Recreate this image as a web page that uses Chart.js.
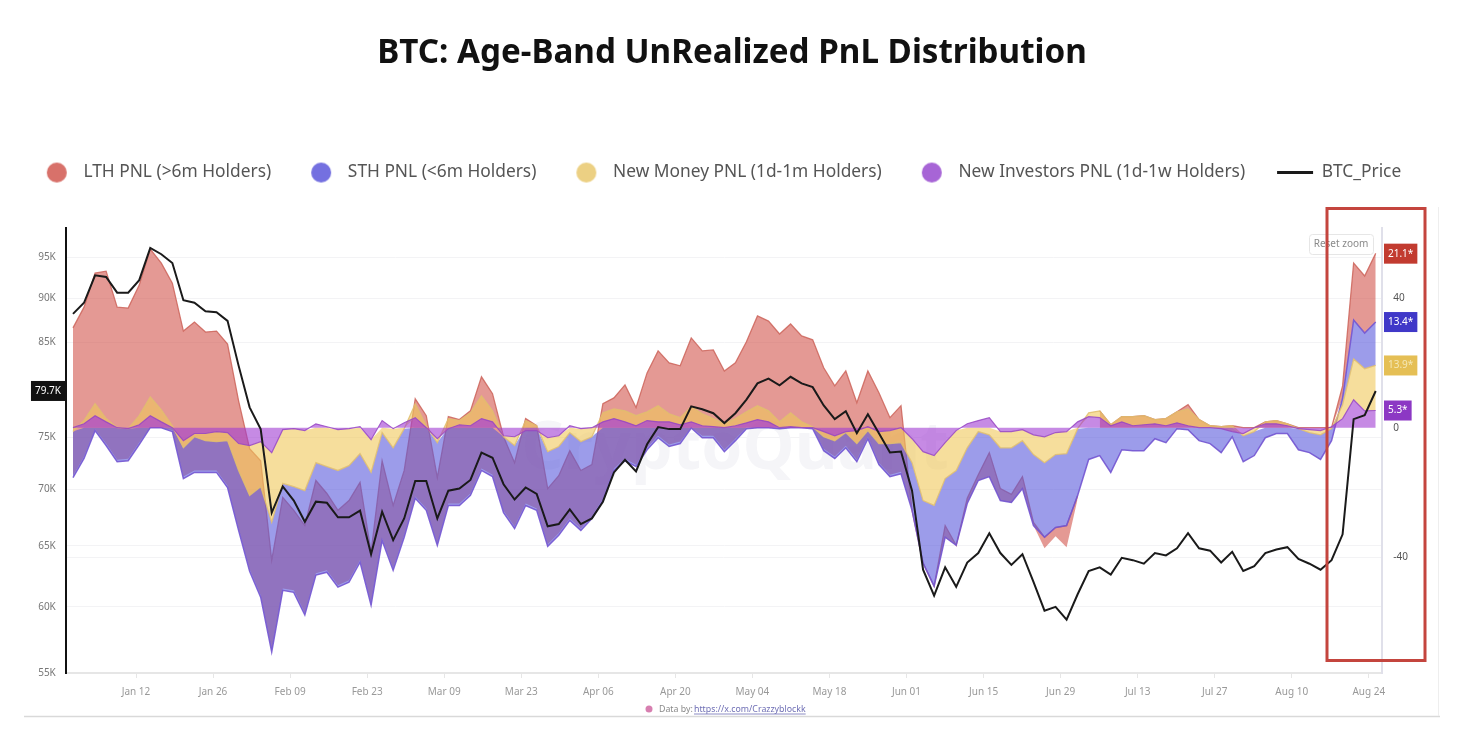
<!DOCTYPE html>
<html>
<head>
<meta charset="utf-8">
<script src="https://cdn.jsdelivr.net/npm/chart.js@4"></script>
<style>
html,body{margin:0;padding:0;background:#fff}
#wrap{width:1464px;height:754px}
canvas{display:block;filter:blur(0.55px)}
</style>
</head>
<body>
<div id="wrap"><canvas id="c" width="1464" height="754"></canvas></div>
<script>
const firstDay = -11.45;   // days relative to Jan 12
const stepDays = 2.006;
const xTickDays = [0,14,28,42,56,70,84,98,112,126,140,154,168,182,196,210,224];
const xTickLabels = ['Jan 12','Jan 26','Feb 09','Feb 23','Mar 09','Mar 23','Apr 06','Apr 20','May 04','May 18','Jun 01','Jun 15','Jun 29','Jul 13','Jul 27','Aug 10','Aug 24'];
const priceTicks = [55,60,65,70,75,79.7,85,90,95];
const priceTickLabels = ['55K  ','60K  ','65K  ','70K  ','75K  ','79.7K','85K  ','90K  ','95K  '];
const pnlTicks = [53.7,40,32.6,19.2,5.3,0,-40];
const pnlTickLabels = ['21.1*','  40','13.4*','13.9*','5.3*','  0','  -40'];

const btcPrice = [88.2,89.5,92.8,92.6,90.7,90.7,92.2,96.2,95.4,94.3,
89.8,89.5,88.5,88.4,87.4,82.4,78,75.8,67.9,70.3,
69,67.1,68.9,68.8,67.5,67.5,68.1,64.3,68,65.5,
67.4,70.8,70.8,67.4,69.9,70.1,70.9,73.5,73,70.5,
69.1,70.2,69.6,66.7,66.9,68.2,66.9,67.4,68.9,71.6,
72.8,71.7,74.3,76,75.8,75.8,78.1,77.8,77.4,76.4,
77.4,78.8,80.5,81,80.3,81.2,80.5,80.1,78.2,76.8,
77.6,75.4,77.3,75.4,73.5,73.6,69.9,63,60.9,63.2,
61.6,63.6,64.4,66.1,64.4,63.4,64.3,62,59.7,60,
59,61,62.9,63.2,62.6,64,63.8,63.5,64.4,64.2,
64.8,66.1,64.8,64.6,63.6,64.5,62.9,63.3,64.4,64.7,
64.9,63.9,63.5,63,63.8,66,76.8,77.2,79.7];

const newInvestors = [0,1.2,3.7,1.8,0,-.3,.9,3.7,1.8,0,
-4,-1.8,-1.8,-1.2,-1.5,-4.9,-5.5,-4.3,-7.7,-.6,
-.3,-.9,1.2,.3,-.6,-.3,.3,-3.7,2.2,-.3,
1.5,3.1,0,-3.4,-.3,.9,.6,2.8,1.8,-2.5,
-2.8,-.9,-.9,-3.1,-2.5,.6,-.3,0,1.8,2.8,
1.8,.6,2.2,1.8,1.8,.9,1.8,.6,.3,0,
.6,1.5,2.5,1.8,0,.3,0,0,-1.2,-2.5,
-1.2,-.9,.3,-1.2,-.9,0,-3.4,-7.4,-8.6,-4.6,
-.9,1.2,2.2,3.1,-1.2,-1.2,-.6,-2.2,-2.8,-1.5,
-1.2,1.8,3.4,3.1,.6,1.8,.6,.9,1.2,.6,
1.5,.6,0,0,-.3,-1.2,-1.8,0,1.2,1.2,
.6,-.3,-.6,-.9,.3,2.8,8.6,5.2,5.3];

const newMoney = [-1.2,2.2,7.4,2.8,0,-.3,3.7,9.5,5.5,.6,
-6.2,-2.8,-4,-4.3,-4,-13.2,-20.9,-18.2,-29.2,-17.2,
-18.2,-19.4,-10.8,-12,-13.2,-11.7,-8,-13.8,-1.5,-6.2,
-.3,7.4,.6,-4.6,2.8,2.2,4.6,9.8,5.2,-2.8,
-5.5,2.2,.6,-7.4,-5.8,-1.5,-4.3,-2.8,4.6,5.8,
5.2,3.7,4.9,6.8,4.3,3.1,6.5,4.3,2.8,1.2,
2.8,4.9,6.8,5.2,1.8,4.6,1.8,.3,-2.8,-4,
-1.5,-4.9,-.9,-4.9,-4.9,-4.6,-10.8,-22.5,-24,-15.7,
-13.2,-6.2,-1.2,-2.2,-6.2,-6.2,-4,-8.3,-10.8,-8.3,
-8,-.3,4.6,5.2,.9,3.4,3.4,3.7,2.5,2.8,
4.9,5.8,2.5,.6,.3,.6,-2.5,-1.2,1.8,2.2,
1.2,-.3,-1.5,-2.2,-.3,7.1,21.2,18.2,19.2];

const sthPnl = [-15.4,-9.5,-.9,-5.5,-10.5,-10.2,-5.2,0,0,-1.2,
-15.7,-13.8,-13.8,-13.8,-18.5,-31.7,-44.3,-52.3,-69.2,-50.2,
-50.8,-57.8,-45.5,-44.6,-49.2,-47.7,-41.5,-54.8,-34.8,-44,
-33.8,-21.8,-25.5,-36.3,-24,-24,-20.9,-13.2,-15.1,-26.2,
-31.1,-24,-25.5,-36.6,-33.2,-28.6,-31.7,-28,-22.5,-13.2,
-10.2,-12,-6.8,-3.1,-5.8,-4.9,-.1,-3.1,-3.1,-7.4,
-4,-.3,0,0,-.3,0,0,-.3,-7.1,-9.5,
-6.2,-10.5,-3.4,-11.4,-15.1,-14.2,-25.5,-41.8,-48.9,-33.8,
-36.3,-23.4,-16.3,-15.1,-22.5,-23.1,-18.8,-30.2,-33.8,-30.8,
-30.2,-20.9,-9.8,-8.6,-13.8,-6.8,-7.1,-7.1,-3.4,-4.6,
-.3,-.6,-4,-4.9,-7.7,-2.8,-10.5,-8.6,-3.1,-1.8,
-1.8,-6.8,-7.7,-9.8,-4,9.2,33.2,29.2,32.6];

const lthUpper = [30.8,37.2,47.7,48.3,37.2,36.9,44,55.1,50.8,44.6,
29.8,32.6,29.5,29.8,25.8,8.3,-6.5,-10.2,-40.9,-21.5,
-25.5,-30.2,-16.3,-20.3,-25.5,-22.5,-16.9,-38.5,-10.2,-24,
-13.2,8.9,3.7,-15.4,3.4,2.5,5.2,15.7,10.5,-2.8,
-10.8,2.8,.6,-18.8,-14.8,-7.1,-13.2,-11.4,7.4,9.2,
13.2,6.2,16.9,23.7,20,19.1,27.7,23.7,24,17.5,
20,26.5,34.5,32.9,28.9,32,28.3,27.1,18.5,12.9,
17.5,7.7,17.5,10.8,3.1,6.8,-25.5,-41.8,-48.9,-30.2,
-36.3,-21.8,-14.5,-7.7,-18.8,-20.6,-15.1,-29.2,-33.8,-30.8,
-30.2,-20.9,null,5.2,.9,3.4,3.4,3.7,2.5,2.8,
4.9,7.1,2.5,.6,.3,.6,0,0,1.8,2.2,
1.2,0,0,0,0,12.9,50.8,46.8,53.8];

const lthLower = [-14.8,-8.9,-.5,-4.9,-9.9,-9.6,-4.6,0,0,-.8,
-15.1,-13.2,-13.2,-13.2,-17.9,-31.1,-43.7,-51.7,-68.6,-49.6,
-50.2,-57.2,-44.9,-44,-48.6,-47.1,-40.9,-54.2,-34.2,-43.4,
-33.2,-21.2,-24.9,-35.7,-23.4,-23.4,-20.3,-12.6,-14.5,-25.6,
-30.5,-23.4,-24.9,-36,-32.6,-28,-31.1,-27.4,-21.9,-12.6,
-9.6,-11.4,-6.2,-2.5,-5.2,-4.3,0,-2.5,-2.5,-6.8,
-3.4,0,0,0,0,0,0,0,-6.5,-8.9,
-5.6,-9.9,-2.8,-10.8,-14.5,-13.6,-25.5,-41.8,-48.9,-33.8,
-36.3,-23.4,-16.3,-15.1,-22.5,-23.1,-18.8,-30.2,-37.2,-33.5,
-36.9,-22,null,0,0,0,0,0,0,0,
0,0,0,0,0,0,0,0,0,0,
0,0,0,0,0,9.2,33.2,29.2,32.6];

const seriesNames = ['LTH PNL (>6m Holders)','STH PNL (<6m Holders)','New Money PNL (1d-1m Holders)','New Investors PNL (1d-1w Holders)','BTC_Price'];
const legendColors = ['#d8716a','#7470e0','#ecd083','#a765d6','#1a1a1a'];
const tagColors = {'21.1*':'#c23b30','13.4*':'#4038c8','13.9*':'#e5bf55','5.3*':'#8c38c4','79.7K':'#111111'};

const at = arr => arr.map((v,i)=>({x:firstDay+i*stepDays,y:v}));
// Lower edge helpers so that each band only fills its own slice of the stack
const sthBase = sthPnl.map((b,i)=> b<=0 ? Math.min(newMoney[i],0) : newMoney[i]);
const moneyBase = newMoney.map((m,i)=> m<0 ? Math.min(newInvestors[i],0) : newInvestors[i]);

function dot(color){
  const c=document.createElement('canvas');c.width=22;c.height=22;
  const g=c.getContext('2d');g.fillStyle=color;g.beginPath();g.arc(11,11,10,0,Math.PI*2);g.fill();return c;
}
const common={pointRadius:0,pointHoverRadius:0,tension:0,spanGaps:false};
const chart=new Chart(document.getElementById('c'),{
  type:'line',
  data:{datasets:[
    {...common,label:seriesNames[0],data:at(lthUpper),yAxisID:'yP',order:4,fill:5,backgroundColor:'rgba(205,70,60,0.55)',borderColor:'rgba(205,100,90,0.85)',borderWidth:1.3},
    {...common,label:seriesNames[1],data:at(sthPnl),yAxisID:'yP',order:3,fill:6,backgroundColor:'rgba(90,90,220,0.6)',borderColor:'rgba(115,85,210,0.9)',borderWidth:1.5},
    {...common,label:seriesNames[2],data:at(newMoney),yAxisID:'yP',order:2,fill:7,backgroundColor:'rgba(240,200,90,0.6)',borderColor:'rgba(225,190,110,0.85)',borderWidth:1.3},
    {...common,label:seriesNames[3],data:at(newInvestors),yAxisID:'yP',order:1,fill:'origin',backgroundColor:'rgba(160,60,210,0.6)',borderColor:'rgba(150,70,195,0.85)',borderWidth:1.2},
    {...common,label:seriesNames[4],data:at(btcPrice),yAxisID:'yB',order:0,fill:false,borderColor:'#1a1a1a',borderWidth:2},
    {...common,label:'lthLower',data:at(lthLower),yAxisID:'yP',order:5,fill:false,showLine:false},
    {...common,label:'sthBase',data:at(sthBase),yAxisID:'yP',order:5,fill:false,showLine:false},
    {...common,label:'moneyBase',data:at(moneyBase),yAxisID:'yP',order:5,fill:false,showLine:false}
  ]},
  options:{
    responsive:false,animation:false,events:[],
    layout:{padding:0},
    plugins:{
      tooltip:{enabled:false},
      title:{display:true,text:'BTC: Age-Band UnRealized PnL Distribution',color:'#111',
        font:{family:'"Noto Sans"',size:33.2,weight:'bold'},padding:{top:34,bottom:58}},
      subtitle:{display:true,text:' ',weight:500,font:{size:1},padding:{top:0,bottom:36}},
      legend:{display:true,position:'top',weight:1600,
        labels:{usePointStyle:true,pointStyleWidth:36,boxHeight:17,padding:32,color:'#555',
          font:{family:'"Noto Sans"',size:17.35},
          generateLabels(ch){
            return seriesNames.map((t,i)=>({text:t,datasetIndex:i,fontColor:'#555',hidden:false,lineWidth:3,
              strokeStyle:legendColors[i],fillStyle:legendColors[i],
              pointStyle:i===4?'line':dot(legendColors[i]),rotation:0}));
          }}}
    },
    scales:{
      x:{type:'linear',min:-12.72,max:226.4,
        afterBuildTicks(s){s.ticks=xTickDays.map(v=>({value:v}));},
        afterFit(s){s.height=81;},
        border:{color:'#e6e6e6',width:2},
        grid:{drawOnChartArea:false,tickLength:5,tickColor:'#e6e6e6'},
        ticks:{autoSkip:false,maxRotation:0,padding:8,color:'#999',font:{family:'"Noto Sans"',size:10},
          callback(v,i){return xTickLabels[i];}}},
      yB:{type:'logarithmic',position:'left',min:55,max:98.7,
        afterBuildTicks(s){s.ticks=priceTicks.map(v=>({value:v}));},
        afterFit(s){s.width=66;},
        border:{color:'#111',width:2},
        grid:{color:c=>c.tick&&c.tick.value===79.7?'rgba(0,0,0,0)':'#f3f3f5',drawTicks:false,lineWidth:1},
        ticks:{autoSkip:false,padding:5,font:{family:'"Noto Sans"',size:10},
          color:c=>c.tick.value===79.7?'#fff':'#777',
          showLabelBackdrop:c=>c.tick.value===79.7,
          backdropColor:'#111',backdropPadding:{x:4,y:4},
          callback(v,i){return priceTickLabels[i];}}},
      yP:{type:'linear',position:'right',min:-75.7,max:61.5,
        afterBuildTicks(s){s.ticks=pnlTicks.map(v=>({value:v}));},
        afterFit(s){s.width=82;},
        border:{color:'#e0e0ea',width:2},
        grid:{color:c=>(c.tick&&(c.tick.value===40||c.tick.value===-40))?'#f3f3f5':'rgba(0,0,0,0)',drawTicks:false},
        ticks:{autoSkip:false,padding:6,font:{family:'"Noto Sans"',size:10},
          color:c=>{const l=pnlTickLabels[c.index];return tagColors[l]?(l==='13.9*'?'#f4e7b5':'#fff'):'#555';},
          showLabelBackdrop:c=>!!tagColors[pnlTickLabels[c.index]],
          backdropColor:c=>tagColors[pnlTickLabels[c.index]]||'rgba(0,0,0,0)',backdropPadding:{x:4,y:4},
          callback(v,i){return pnlTickLabels[i];}}}
    }
  },
  plugins:[{
    id:'decor',
    afterLayout(ch){ ch.legend.left-=24; },
    beforeDatasetsDraw(ch){
      const g=ch.ctx;g.save();
      g.fillStyle='#f5f5f8';g.font='bold 66px "Noto Sans"';g.textAlign='center';g.textBaseline='middle';
      g.fillText('CryptoQuant',735,450);g.restore();
    },
    afterDraw(ch){
      const g=ch.ctx;g.save();
      // reset zoom button
      g.fillStyle='rgba(255,255,255,.75)';g.strokeStyle='#e6e6e6';g.lineWidth=1;
      g.beginPath();g.roundRect(1309.5,234.5,64,20,3);g.fill();g.stroke();
      g.fillStyle='#8a8a8a';g.font='10px "Noto Sans"';g.textAlign='center';g.textBaseline='middle';
      g.fillText('Reset zoom',1341,244.5);
      // red highlight box
      g.strokeStyle='#c4453e';g.lineWidth=3;g.strokeRect(1327,208.5,98,452);
      // frame lines
      g.strokeStyle='#d9d9d9';g.lineWidth=1.5;g.beginPath();g.moveTo(24,716.5);g.lineTo(1440,716.5);g.stroke();
      g.strokeStyle='#eeeeee';g.lineWidth=1;g.beginPath();g.moveTo(1438.5,207);g.lineTo(1438.5,716);g.stroke();
      // source note
      g.fillStyle='#d77fb0';g.beginPath();g.arc(649,709,3.5,0,Math.PI*2);g.fill();
      g.textAlign='left';g.font='8.8px "Noto Sans"';g.fillStyle='#8a8a8a';g.fillText('Data by:',659,709);
      g.fillStyle='#6f6fb5';const link='https://x.com/Crazzyblockk';g.fillText(link,694,709);
      const w=g.measureText(link).width;g.strokeStyle='#6f6fb5';g.lineWidth=.8;g.beginPath();g.moveTo(694,714);g.lineTo(694+w,714);g.stroke();
      g.restore();
    }
  }]
});
</script>
</body>
</html>
